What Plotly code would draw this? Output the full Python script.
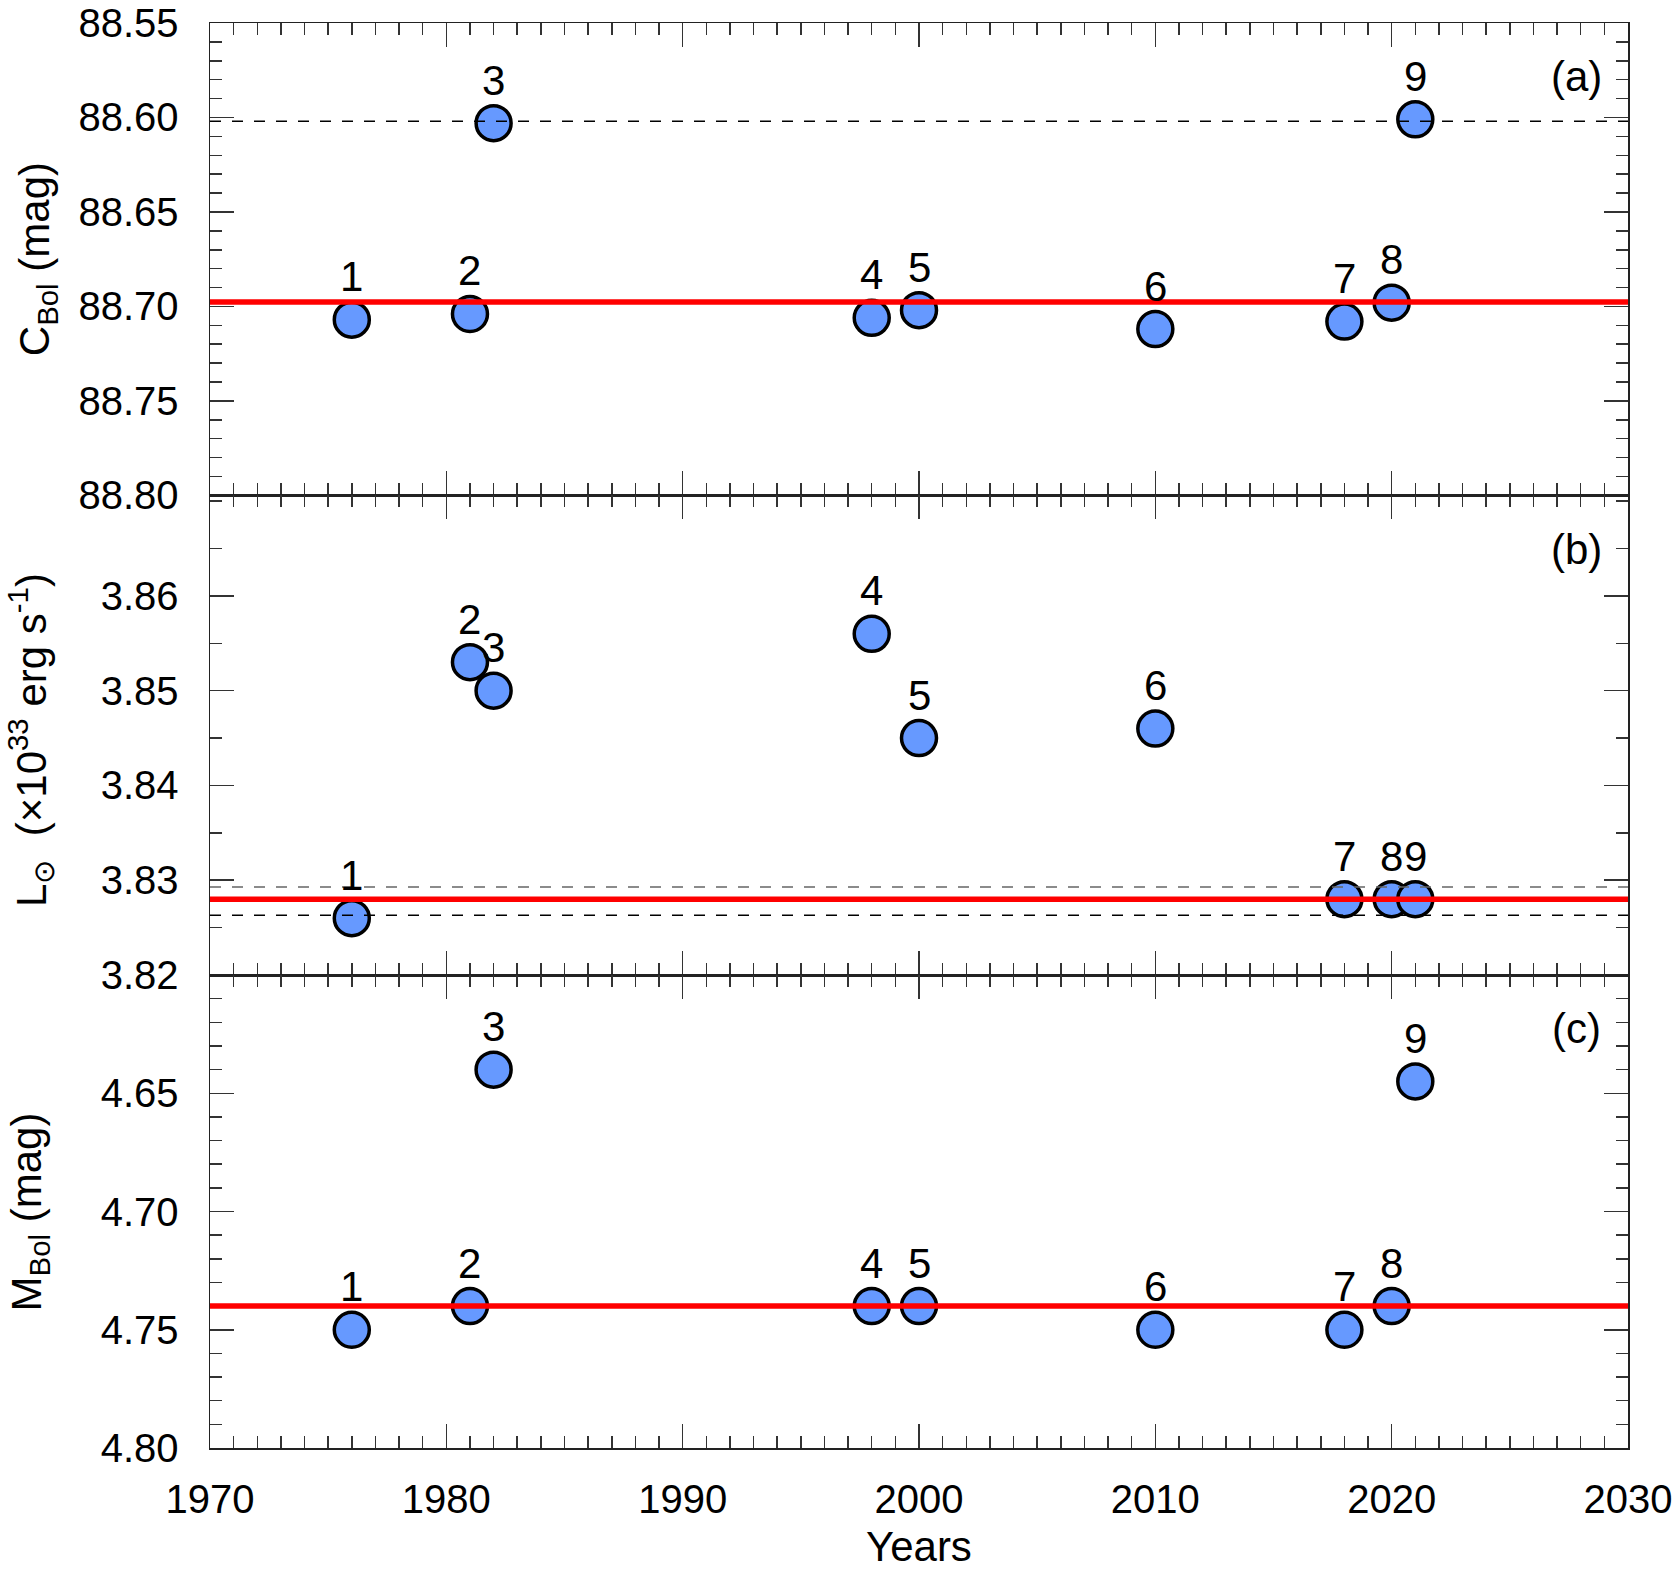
import plotly.graph_objects as go

# ---------------- data ----------------
years = [1976, 1981, 1982, 1998, 2000, 2010, 2018, 2020, 2021]
point_ids = ["1", "2", "3", "4", "5", "6", "7", "8", "9"]
c_bol = [88.707, 88.704, 88.603, 88.706, 88.702, 88.712, 88.708, 88.698, 88.601]
lum = [3.826, 3.853, 3.850, 3.856, 3.845, 3.846, 3.828, 3.828, 3.828]
m_bol = [4.75, 4.74, 4.64, 4.74, 4.74, 4.75, 4.75, 4.74, 4.645]

c_bol_ref = 88.6977
c_bol_dash = [88.602]
lum_ref = 3.828
lum_dash = [3.8293, 3.8263]
m_bol_ref = 4.74

x_range = [1970, 2030]
c_ticks = [88.55, 88.60, 88.65, 88.70, 88.75, 88.80]
l_ticks = [3.82, 3.83, 3.84, 3.85, 3.86]
m_ticks = [4.65, 4.70, 4.75, 4.80]
x_ticks = [1970, 1980, 1990, 2000, 2010, 2020, 2030]
panel_tags = ["(a)", "(b)", "(c)"]

# ---------------- style ----------------
FONT = "Liberation Sans, Arial, sans-serif"
FS = 42
TFS = 40
FILL = "#6699ff"
RED = "#ff0000"
W, H = 1675, 1572
ML, MR, MT, MB = 210, 47, 23, 124
doms = [[0.6685, 1.0], [0.3319, 0.6685], [0.0, 0.3319]]


def tfont(size=FS):
    return dict(family=FONT, size=size, color="black")


fig = go.Figure()

panels = [
    (c_bol, "x", "y", c_bol_ref, c_bol_dash),
    (lum, "x2", "y2", lum_ref, lum_dash),
    (m_bol, "x3", "y3", m_bol_ref, []),
]

annotations = []
shapes = []
for i, (vals, xa, ya, ref, dashes) in enumerate(panels):
    fig.add_trace(go.Scatter(
        x=years, y=vals, mode="markers", xaxis=xa, yaxis=ya,
        marker=dict(size=35, color=FILL, line=dict(color="black", width=3.5)),
        showlegend=False, hoverinfo="skip"))
    for xv, yv, t in zip(years, vals, point_ids):
        annotations.append(dict(x=xv, y=yv, xref=xa, yref=ya, text=t, showarrow=False,
                                xanchor="center", yanchor="middle",
                                yshift=43, font=tfont()))
    for j, d in enumerate(dashes):
        col = "#666666" if (len(dashes) > 1 and j == 0) else "black"
        shapes.append(dict(type="line", xref=xa + " domain", yref=ya, x0=0, x1=1, y0=d, y1=d,
                           line=dict(color=col, width=1.5, dash="11px,11px"), layer="above"))
    shapes.append(dict(type="line", xref=xa + " domain", yref=ya, x0=0, x1=1, y0=ref, y1=ref,
                       line=dict(color=RED, width=5.5), layer="above"))
    annotations.append(dict(x=0.964, y=0.887, xref=xa + " domain", yref=ya + " domain",
                            xanchor="center", yanchor="middle",
                            text=panel_tags[i], showarrow=False, font=tfont()))

# axis titles
annotations += [
    dict(x=-0.122, y=0.5, xref="paper", yref="y domain", text="C<sub>Bol</sub> (mag)",
         textangle=-90, showarrow=False, xanchor="center", yanchor="middle", font=tfont()),
    dict(x=-0.127, y=0.49, xref="paper", yref="y2 domain",
         text="L<sub>⊙</sub>  (×10<sup>33</sup> erg s<sup>-1</sup>)",
         textangle=-90, showarrow=False, xanchor="center", yanchor="middle", font=tfont()),
    dict(x=-0.127, y=0.5, xref="paper", yref="y3 domain", text="M<sub>Bol</sub> (mag)",
         textangle=-90, showarrow=False, xanchor="center", yanchor="middle", font=tfont()),
    dict(x=0.5, y=-0.069, xref="paper", yref="paper", text="Years", showarrow=False,
         xanchor="center", yanchor="middle", font=tfont()),
]

tick_common = dict(ticks="inside", ticklen=24, tickwidth=1.5, tickcolor="#333333",
                   showline=True, linecolor="#222222", linewidth=1.5, mirror="allticks",
                   showgrid=False, zeroline=False, automargin=False,
                   ticklabeloverflow="allow", tickfont=tfont(TFS))

xcommon = dict(range=x_range, tickmode="array", tickvals=x_ticks,
               minor=dict(dtick=1, tick0=1970, ticks="inside", ticklen=12, tickwidth=1.5,
                          tickcolor="#333333", showgrid=False),
               **tick_common)


def ycfg(dom, anchor, rng, ticks, mdt, mt0):
    return dict(domain=dom, anchor=anchor, range=rng, tickmode="array",
                tickvals=ticks, ticktext=[f"{v:.2f}" for v in ticks], ticklabelstandoff=22,
                minor=dict(dtick=mdt, tick0=mt0, ticks="inside", ticklen=12, tickwidth=1.5,
                           tickcolor="#333333", showgrid=False),
                **tick_common)


fig.update_layout(
    width=W, height=H, margin=dict(l=ML, r=MR, t=MT, b=MB, autoexpand=False),
    paper_bgcolor="white", plot_bgcolor="white",
    xaxis=dict(anchor="y", showticklabels=False, **xcommon),
    xaxis2=dict(anchor="y2", matches="x", showticklabels=False, **xcommon),
    xaxis3=dict(anchor="y3", matches="x", showticklabels=True, ticklabelstandoff=15, **xcommon),
    yaxis=ycfg(doms[0], "x", [88.80, 88.55], c_ticks, 0.01, 88.55),
    yaxis2=ycfg(doms[1], "x2", [3.82, 3.8706], l_ticks, 0.005, 3.82),
    yaxis3=ycfg(doms[2], "x3", [4.80, 4.60], m_ticks, 0.01, 4.60),
    annotations=annotations,
    shapes=shapes,
)
fig.write_html("out.html",
               config={"displayModeBar": False, "staticPlot": True},
               post_script="document.body.style.margin='0px';"
                           "document.body.style.overflow='hidden';")
